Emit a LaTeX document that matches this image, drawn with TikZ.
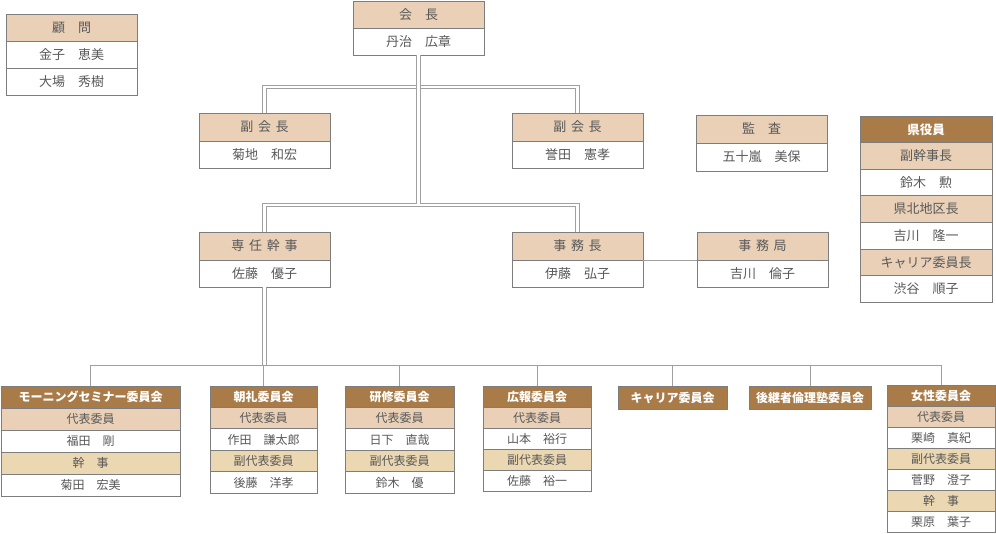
\documentclass[tikz,border=0pt]{standalone}
\usepackage{fontspec}
\usepackage{tikz}
\usetikzlibrary{positioning}
\newfontfamily\jp{Noto Sans CJK JP}
\definecolor{peach}{RGB}{233,208,183}
\definecolor{beige}{RGB}{235,216,178}
\definecolor{darkhead}{RGB}{169,123,72}
\definecolor{linegray}{RGB}{160,160,160}
\definecolor{framegray}{RGB}{125,125,125}
\definecolor{txtgray}{RGB}{89,89,89}
\newcommand{\ls}{\hspace{0.36em}}

\begin{document}
\begin{tikzpicture}[x=1pt, y=-1pt,
    box/.style={draw=framegray, line width=0.7pt, inner sep=0pt, outer sep=0pt, text=txtgray,
        text height=10.5pt, text depth=1pt, font=\jp\fontsize{#1}{#1}\selectfont},
    box/.default=13,
    hd/.style={box=#1, fill=peach}, hd/.default=13,
    sub/.style={box=#1, fill=beige}, sub/.default=13,
    nm/.style={box=#1, fill=white}, nm/.default=13,
    dk/.style={box=#1, fill=darkhead, text=white, font=\jp\bfseries\fontsize{#1}{#1}\selectfont},
    dk/.default=12,
    link/.style={draw=linegray, line width=0.8pt},
    dlink/.style={draw=linegray, line width=1pt, double=white, double distance=2.8pt},
    every node/.style={minimum width=131, minimum height=27}]
    \useasboundingbox (0,0) rectangle (996,533);

    % advisers and president
    \node[hd] (komon) at (71.5,27.5) {顧　問};
    \node[nm, below=0pt of komon] (komon-1) {金子　恵美};
    \node[nm, below=0pt of komon-1] (komon-2) {大場　秀樹};
    \node[hd] (kaicho) at (418.5,14.5) {会　長};
    \node[nm, below=0pt of kaicho] (kaicho-1) {丹治　広章};

    % vice presidents, auditor
    \node[hd, minimum height=28] (fuku1) at (264.5,127) {副\ls 会\ls 長};
    \node[nm, below=0pt of fuku1] (fuku1-1) {菊地　和宏};
    \node[hd, minimum height=28] (fuku2) at (577.5,127) {副\ls 会\ls 長};
    \node[nm, below=0pt of fuku2] (fuku2-1) {誉田　憲孝};
    \node[hd, minimum height=28] (kansa) at (761.5,129) {監　査};
    \node[nm, minimum height=28, below=0pt of kansa] (kansa-1) {五十嵐　美保};

    % prefecture officers
    \begin{scope}[every node/.append style={minimum width=132, minimum height=26.6}]
        \node[dk=12.5] (ken) at (926,129.3) {県役員};
        \node[hd, below=0pt of ken] (ken-1) {副幹事長};
        \node[nm, below=0pt of ken-1] (ken-2) {鈴木　勲};
        \node[hd, below=0pt of ken-2] (ken-3) {県北地区長};
        \node[nm, below=0pt of ken-3] (ken-4) {吉川　隆一};
        \node[hd, below=0pt of ken-4] (ken-5) {キャリア委員長};
        \node[nm, below=0pt of ken-5] (ken-6) {渋谷　順子};
    \end{scope}

    % staff
    \node[hd, minimum height=28] (senin) at (264.5,246) {専\ls 任\ls 幹\ls 事};
    \node[nm, below=0pt of senin] (senin-1) {佐藤　優子};
    \node[hd, minimum height=28] (jimucho) at (577.5,246) {事\ls 務\ls 長};
    \node[nm, below=0pt of jimucho] (jimucho-1) {伊藤　弘子};
    \node[hd, minimum height=28] (jimukyoku) at (762.5,246) {事\ls 務\ls 局};
    \node[nm, below=0pt of jimukyoku] (jimukyoku-1) {吉川　倫子};

    % committees
    \begin{scope}[every node/.append style={minimum width=179, minimum height=22}]
        \node[dk] (mor) at (90.5,397) {モーニングセミナー委員会};
        \node[hd=12, below=0pt of mor] (mor-1) {代表委員};
        \node[nm=12, below=0pt of mor-1] (mor-2) {福田　剛};
        \node[sub=12, below=0pt of mor-2] (mor-3) {幹　事};
        \node[nm=12, below=0pt of mor-3] (mor-4) {菊田　宏美};
    \end{scope}
    \begin{scope}[every node/.append style={minimum width=107, minimum height=21.4}]
        \node[dk] (chorei) at (263.5,396.7) {朝礼委員会};
        \node[hd=12, below=0pt of chorei] (chorei-1) {代表委員};
        \node[nm=12, below=0pt of chorei-1] (chorei-2) {作田　謙太郎};
        \node[sub=12, below=0pt of chorei-2] (chorei-3) {副代表委員};
        \node[nm=12, below=0pt of chorei-3] (chorei-4) {後藤　洋孝};
    \end{scope}
    \begin{scope}[every node/.append style={minimum width=109, minimum height=21.4}]
        \node[dk] (kenshu) at (399.5,396.7) {研修委員会};
        \node[hd=12, below=0pt of kenshu] (kenshu-1) {代表委員};
        \node[nm=12, below=0pt of kenshu-1] (kenshu-2) {日下　直哉};
        \node[sub=12, below=0pt of kenshu-2] (kenshu-3) {副代表委員};
        \node[nm=12, below=0pt of kenshu-3] (kenshu-4) {鈴木　優};
    \end{scope}
    \begin{scope}[every node/.append style={minimum width=108, minimum height=21}]
        \node[dk] (koho) at (537,396.5) {広報委員会};
        \node[hd=12, below=0pt of koho] (koho-1) {代表委員};
        \node[nm=12, below=0pt of koho-1] (koho-2) {山本　裕行};
        \node[sub=12, below=0pt of koho-2] (koho-3) {副代表委員};
        \node[nm=12, below=0pt of koho-3] (koho-4) {佐藤　裕一};
    \end{scope}
    \node[dk, minimum width=109, minimum height=23] (career) at (672.5,397.5) {キャリア委員会};
    \node[dk, minimum width=122, minimum height=23] (kokei) at (810,397.5) {後継者倫理塾委員会};
    \begin{scope}[every node/.append style={minimum width=108, minimum height=21}]
        \node[dk] (josei) at (941,395.5) {女性委員会};
        \node[hd=12, below=0pt of josei] (josei-1) {代表委員};
        \node[nm=12, below=0pt of josei-1] (josei-2) {栗崎　真紀};
        \node[sub=12, below=0pt of josei-2] (josei-3) {副代表委員};
        \node[nm=12, below=0pt of josei-3] (josei-4) {菅野　澄子};
        \node[sub=12, below=0pt of josei-4] (josei-5) {幹　事};
        \node[nm=12, below=0pt of josei-5] (josei-6) {栗原　葉子};
    \end{scope}

    % connectors
    \coordinate (split1) at (kaicho-1.south |- 0,87);
    \coordinate (split2) at (kaicho-1.south |- 0,205);
    \coordinate (bus) at (senin-1.south |- 0,365);
    \draw[dlink] (fuku1.north) |- (split1) -| (fuku2.north);
    \draw[dlink] (senin.north) |- (split2) -| (jimucho.north);
    \draw[dlink] (kaicho-1.south) -- ([yshift=1.4pt]split2);
    \draw[dlink] (senin-1.south) -- (bus);
    \draw[link] (jimucho.south east) -- (jimukyoku.south west);
    \draw[link] (mor.north) -- (mor.north |- bus) -- (josei.north |- bus) -- (josei.north);
    \draw[link] (chorei.north) -- (chorei.north |- bus);
    \draw[link] (kenshu.north) -- (kenshu.north |- bus);
    \draw[link] (koho.north) -- (koho.north |- bus);
    \draw[link] (career.north) -- (career.north |- bus);
    \draw[link] (kokei.north) -- (kokei.north |- bus);
\end{tikzpicture}
\end{document}
